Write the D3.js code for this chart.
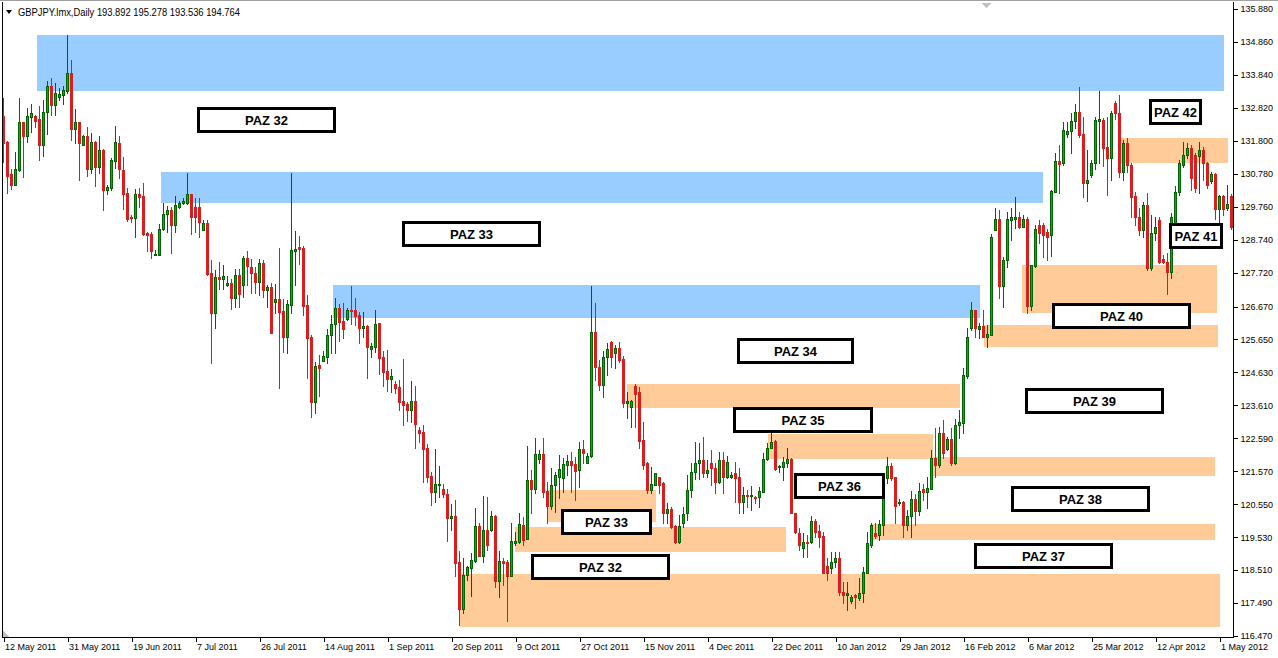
<!DOCTYPE html>
<html><head><meta charset="utf-8">
<script src="https://cdn.jsdelivr.net/npm/d3@7"></script>
<style>body{margin:0;background:#fff;}svg{display:block;}</style>
</head><body><svg id="c" width="1278" height="658"></svg>
<script>
// ---- DATA (GBPJPY daily, bar index 0 = 12 May 2011) ----
const openP = [
132.57,131.76,130.77,130.43,130.90,132.38,131.95,132.54,132.57,132.48,
131.67,132.69,133.50,132.91,133.16,133.22,133.34,133.90,132.17,132.38,
131.67,131.95,130.93,131.76,130.99,131.52,130.28,130.34,131.18,131.73,
130.90,130.18,129.44,129.41,130.15,130.09,128.95,128.92,128.27,128.27,
129.07,129.53,129.66,129.19,129.75,129.87,129.87,130.15,129.75,129.75,
129.04,129.26,127.71,126.47,127.58,127.52,127.34,127.40,126.93,127.65,
127.34,128.17,127.89,127.71,127.43,128.02,127.18,127.27,126.81,126.90,
126.53,125.73,126.72,128.39,128.51,128.48,126.72,125.73,123.71,124.86,
124.98,125.11,125.79,126.13,126.62,126.22,126.28,126.56,126.56,126.41,
126.01,126.07,125.35,125.42,126.16,125.11,124.67,124.43,124.27,124.18,
123.75,123.65,123.47,123.75,122.85,122.78,122.29,121.42,120.93,121.14,
121.02,120.87,120.12,120.18,118.76,117.31,118.36,118.57,118.79,119.88,
118.95,119.75,119.75,120.18,118.17,118.79,118.76,118.33,119.35,119.38,
119.91,119.47,121.30,121.02,121.95,122.10,120.96,120.49,121.14,121.39,
121.36,121.76,121.89,121.79,121.61,122.26,121.83,122.04,125.88,124.80,
124.24,125.11,125.57,125.23,125.39,125.05,123.68,123.56,124.21,124.02,
122.54,121.83,120.99,121.14,121.39,121.21,120.28,120.40,119.88,119.38,
119.97,120.28,120.99,121.55,121.83,121.92,121.52,121.83,121.67,121.24,
121.92,121.39,121.39,121.52,121.39,120.62,120.84,120.80,120.77,120.77,
120.93,121.95,122.29,122.51,121.70,121.70,121.83,121.95,120.28,119.66,
119.19,119.38,119.38,120.03,119.72,119.57,118.64,118.57,118.76,118.88,
117.83,117.74,117.55,117.74,117.65,117.80,118.42,119.29,119.66,119.60,
119.91,121.36,121.73,121.39,120.59,120.62,119.91,120.18,120.71,120.34,
121.02,120.93,121.02,121.98,121.76,122.75,122.26,122.57,121.83,123.00,
123.06,124.52,126.01,126.56,125.97,126.07,125.73,125.79,129.04,129.38,
127.31,128.11,129.35,129.38,129.44,129.13,129.38,126.69,127.92,129.19,
129.19,128.98,128.88,130.22,131.18,131.11,132.01,132.10,132.41,132.69,
132.01,130.49,130.74,131.11,132.41,132.44,131.61,131.27,132.97,132.66,
130.83,131.73,131.05,130.09,129.44,129.04,129.81,127.86,128.95,129.35,
128.14,128.05,127.74,129.13,130.22,131.05,131.36,131.58,131.36,131.33,
131.52,131.11,130.56,130.77,129.69,130.09,129.72,130.09];
const highP = [
133.13,131.79,130.93,131.45,133.13,132.38,132.82,132.94,132.60,132.88,
133.06,133.65,133.74,133.59,133.44,133.50,135.08,134.30,132.79,132.38,
131.98,132.23,132.04,131.79,131.95,131.55,130.43,131.27,132.26,131.95,
131.30,130.34,129.50,130.31,130.34,130.49,128.98,128.98,128.42,129.23,
129.87,129.78,129.75,130.09,129.94,130.03,130.80,130.15,130.03,130.03,
129.35,129.35,128.11,127.80,128.05,127.96,127.61,127.52,127.83,127.83,
128.23,128.39,128.14,127.89,128.14,128.11,127.34,127.40,127.37,128.48,
126.90,126.87,130.80,129.01,128.85,128.54,127.03,125.79,124.95,125.17,
125.29,125.97,126.41,126.93,126.75,126.78,126.62,127.31,126.93,126.50,
126.50,126.10,125.54,126.56,126.16,125.29,125.32,124.74,124.36,124.39,
125.05,123.71,124.36,124.21,122.94,123.00,122.41,121.55,122.26,121.73,
121.17,121.02,120.56,120.68,119.10,118.88,118.64,119.04,120.43,119.97,
120.80,120.77,120.34,120.22,119.10,118.88,118.82,119.97,119.69,120.28,
120.15,122.35,121.61,122.60,122.23,122.60,121.24,121.67,121.55,122.07,
121.98,122.07,122.17,122.01,122.48,122.54,122.14,127.31,126.78,125.01,
125.29,125.54,125.60,125.48,125.57,125.14,124.02,123.78,124.27,124.18,
123.09,121.86,121.70,121.52,121.39,121.24,120.59,120.46,119.91,120.22,
120.46,121.45,121.83,122.48,122.45,122.63,121.92,122.23,121.83,122.17,
122.17,122.04,121.55,121.86,121.67,121.08,120.99,121.11,120.80,121.08,
122.14,122.45,122.75,122.54,121.76,122.01,122.29,121.98,120.28,119.81,
119.66,119.60,120.18,120.09,119.91,119.69,118.88,119.07,119.07,119.07,
118.14,118.14,117.74,117.77,118.27,118.61,119.69,119.97,119.97,120.06,
121.45,122.01,121.83,121.39,120.71,120.65,120.37,120.96,120.87,121.21,
121.17,121.39,122.23,122.91,122.94,123.16,122.63,122.91,123.19,123.47,
124.77,126.01,126.81,126.56,126.16,126.56,126.10,128.92,129.72,129.66,
128.20,129.60,129.72,130.06,129.60,129.50,129.44,127.96,129.19,129.35,
129.26,129.07,130.28,131.42,131.67,132.38,132.38,132.66,132.94,133.47,
132.54,131.52,131.21,132.54,133.34,132.51,132.54,132.72,133.03,133.22,
131.83,131.89,131.11,130.22,129.72,129.91,130.18,129.50,129.44,129.44,
128.26,128.33,129.57,130.40,131.21,131.76,131.73,131.67,131.42,131.76,
131.61,131.14,130.83,130.80,130.12,130.12,130.43,130.15];
const lowP = [
131.14,130.19,130.31,130.43,130.87,130.68,131.76,132.07,132.23,131.21,
131.33,132.01,132.60,132.60,133.06,132.94,133.28,131.83,131.73,130.59,
131.67,130.71,130.80,130.40,130.80,129.66,130.15,130.28,130.96,130.65,
129.69,129.32,129.29,128.82,129.75,128.88,128.39,128.17,128.27,128.27,
129.04,128.98,128.33,128.98,129.72,129.84,129.84,128.92,128.98,128.82,
129.04,127.65,124.92,126.01,127.21,127.21,127.31,126.59,126.66,126.66,
126.96,127.34,127.09,127.09,127.03,126.96,126.66,125.85,126.47,124.15,
125.26,125.23,126.47,127.34,127.99,126.41,124.46,123.25,123.37,123.90,
124.98,124.92,125.23,125.23,125.60,125.70,126.25,126.13,126.10,125.54,
125.73,124.46,125.11,125.26,124.58,124.21,124.05,124.02,123.99,123.47,
123.00,123.12,123.09,122.29,122.48,121.24,121.24,120.51,120.62,120.77,
120.77,119.41,119.75,118.33,116.81,117.18,118.20,117.71,118.76,118.95,
118.76,119.13,119.72,117.99,117.68,118.05,116.93,118.33,119.29,119.35,
119.29,119.47,120.28,120.90,121.83,120.77,119.97,120.40,120.31,120.74,
120.93,121.45,120.93,120.68,121.08,121.83,121.83,122.01,124.39,124.09,
123.87,124.55,124.80,124.77,124.95,123.56,123.22,122.94,122.94,122.29,
121.64,120.90,120.90,121.14,120.90,119.97,119.97,119.81,119.35,119.35,
119.84,120.06,120.77,121.33,121.33,121.39,121.39,121.14,120.90,121.21,
120.90,121.36,121.36,120.62,120.28,120.28,120.46,120.37,120.59,120.46,
120.93,121.92,122.29,121.61,121.55,121.30,121.70,120.28,119.66,119.13,
118.92,118.92,119.35,119.53,119.21,118.42,118.20,118.42,118.61,117.74,
117.49,117.28,117.49,117.34,117.58,117.52,118.42,119.21,119.50,119.44,
119.60,121.21,121.30,119.97,120.52,119.53,119.75,119.53,119.91,120.22,
120.68,120.43,121.02,121.39,121.70,121.98,122.23,121.76,121.79,122.60,
122.75,124.46,125.94,125.73,125.70,125.73,125.42,125.79,129.04,126.93,
126.66,127.89,128.73,129.10,129.10,129.13,126.47,126.56,127.89,128.64,
128.20,128.11,128.23,130.22,130.18,131.05,131.92,131.42,132.20,131.92,
130.06,129.94,130.68,130.93,131.11,131.02,130.12,130.59,132.48,130.68,
130.59,130.83,129.44,129.19,128.88,128.82,127.80,127.80,128.73,128.02,
128.02,127.06,127.55,129.10,130.12,130.99,131.27,130.28,130.22,130.18,
130.59,130.34,130.49,129.38,129.04,129.50,129.66,129.07];
const closeP = [
131.73,130.71,130.43,130.93,132.38,131.95,132.57,132.66,132.41,131.67,
132.69,133.50,132.91,133.28,133.25,133.37,133.90,132.17,132.38,131.73,
131.95,130.93,131.76,130.99,131.52,130.28,130.37,131.21,131.76,130.93,
130.15,129.38,129.41,130.15,130.06,128.92,128.88,128.39,128.30,129.07,
129.53,129.66,129.19,129.81,129.87,129.94,130.15,129.44,129.44,129.29,
129.26,127.68,126.47,127.58,127.52,127.61,127.40,126.93,127.65,127.06,
128.17,127.92,127.71,127.43,128.02,127.18,127.27,125.85,126.90,126.50,
125.73,126.75,128.42,128.45,128.45,126.69,125.70,123.71,124.83,124.77,
125.14,125.79,126.13,126.62,126.19,125.97,126.56,126.53,126.38,126.01,
126.07,125.42,125.45,126.13,125.08,124.64,124.43,124.52,124.15,123.71,
123.62,123.47,123.75,123.03,122.75,122.26,121.39,120.93,121.17,121.17,
120.87,120.12,120.18,118.73,117.31,118.36,118.61,118.82,119.88,118.95,
119.75,119.29,120.18,118.17,118.79,118.73,118.33,119.41,119.41,119.94,
119.44,121.30,121.02,122.10,122.10,120.93,120.49,121.14,121.45,121.64,
121.79,121.89,121.76,121.58,122.26,122.14,122.04,125.88,124.80,124.24,
125.11,125.35,125.11,125.39,125.01,123.68,123.75,123.75,123.96,122.51,
121.76,120.99,121.17,121.52,121.14,120.28,120.40,119.84,119.38,119.88,
120.25,120.99,121.55,121.83,121.92,121.52,121.61,121.67,121.24,121.92,
121.39,121.86,121.45,121.36,120.62,120.84,120.80,120.84,120.74,120.96,
121.95,122.29,122.48,121.64,121.73,121.86,121.95,120.28,119.69,119.29,
119.38,119.35,120.03,119.69,119.53,118.42,118.42,118.76,118.88,117.83,
117.74,117.80,117.68,117.68,117.80,118.45,119.35,119.91,119.57,119.94,
121.36,121.73,121.36,120.49,120.62,119.91,120.18,120.71,120.34,120.96,
120.93,121.05,121.98,121.76,122.75,122.14,122.57,121.83,123.00,123.09,
124.55,125.73,126.56,126.01,126.07,125.73,125.82,128.82,129.38,127.31,
128.11,129.38,129.44,129.44,129.13,129.38,126.69,127.96,129.07,128.95,
128.88,128.82,130.25,131.18,131.08,132.14,132.10,132.41,132.69,131.98,
130.49,130.59,131.11,132.44,132.48,131.58,131.27,132.66,132.66,130.83,
131.73,131.05,130.06,129.44,129.04,129.81,127.86,128.95,129.13,128.05,
128.05,127.74,129.44,130.22,131.11,131.36,131.58,130.65,130.34,131.52,
131.11,130.43,130.77,129.69,130.09,129.69,129.85,129.13];

const dateLabels = ["12 May 2011","31 May 2011","19 Jun 2011","7 Jul 2011","26 Jul 2011","14 Aug 2011","1 Sep 2011","20 Sep 2011","9 Oct 2011","27 Oct 2011","15 Nov 2011","4 Dec 2011","22 Dec 2011","10 Jan 2012","29 Jan 2012","16 Feb 2012","6 Mar 2012","25 Mar 2012","12 Apr 2012","1 May 2012"];
const dateBars = [0,16,32,48,64,80,96,112,128,144,160,176,192,208,224,240,256,272,288,304];
const priceTicks = [135.880,134.860,133.840,132.820,131.800,130.780,129.760,128.740,127.720,126.670,125.650,124.630,123.610,122.590,121.570,120.550,119.530,118.510,117.490,116.470];

// zones: [startBar, endBar, upperPrice, lowerPrice]
const blueZones = [
  [8.25,305,135.08,133.34],
  [39.25,259.75,130.83,129.87],
  [82.25,244,127.34,126.31]
];
const orangeZones = [
  [155.75,239,124.27,123.53],
  [191,232.25,122.72,121.95],
  [232.25,302.75,122.01,121.42],
  [136,163,120.99,120.00],
  [127.75,195.5,119.84,119.07],
  [217,302.75,119.94,119.44],
  [114,304,118.39,116.75],
  [254.5,303.25,127.96,126.47],
  [245,303.5,126.10,125.42],
  [279.5,306,131.89,131.11]
];
const labelText  = ["PAZ 32","PAZ 33","PAZ 34","PAZ 35","PAZ 36","PAZ 33","PAZ 32","PAZ 37","PAZ 38","PAZ 39","PAZ 40","PAZ 41","PAZ 42"];
const labelBar   = [48.5,99.75,183.25,182.25,197.75,139.25,131.75,242.5,251.75,255.25,262,291.25,286.25];
const labelPrice = [132.85,129.32,125.70,123.56,121.52,120.40,119.01,119.35,121.11,124.15,126.78,129.26,133.09];
const headerText = "GBPJPY.lmx,Daily  193.892 195.278 193.536 194.764";

// ---- LAYOUT ----
const labelWidth = [139,139,117,140,91,91,139,139,139,139,139,54,53];
const boxH = 26;
const svg = d3.select("#c");
const x = d3.scaleLinear().domain([0, 307]).range([3.5, 1231.5]);
const y = d3.scaleLinear().domain([116.47, 135.88]).range([636, 9]);
const FONT = "'Liberation Sans', Arial, sans-serif";

// zones
const gz = svg.append("g").attr("shape-rendering","crispEdges");
function drawZones(arr, color){
  gz.selectAll(null).data(arr).enter().append("rect")
    .attr("x", d => Math.round(x(d[0])))
    .attr("width", d => Math.round(x(d[1])) - Math.round(x(d[0])))
    .attr("y", d => Math.round(y(d[2])))
    .attr("height", d => Math.round(y(d[3])) - Math.round(y(d[2])))
    .attr("fill", color);
}
drawZones(blueZones, "#99ccff");
drawZones(orangeZones, "#ffcc99");

// candles
const gc = svg.append("g").attr("shape-rendering","crispEdges");
d3.range(openP.length).forEach(i => {
  const o = openP[i], c = closeP[i], h = highP[i], l = lowP[i];
  const up = c >= o;
  const cx = Math.floor(x(i));
  const yh = Math.round(y(h)), yl = Math.round(y(l));
  gc.append("rect").attr("x", cx).attr("width", 1).attr("y", yh)
    .attr("height", Math.max(1, yl - yh + 1)).attr("fill", up ? "#006400" : "#c82020");
  const t = Math.round(y(Math.max(o, c))), b = Math.round(y(Math.min(o, c)));
  const bh = Math.max(1, b - t + 1);
  if (up) {
    gc.append("rect").attr("x", cx - 1).attr("width", 3).attr("y", t).attr("height", bh).attr("fill", "#006400");
    if (bh > 2) gc.append("rect").attr("x", cx).attr("width", 1).attr("y", t + 1).attr("height", bh - 2).attr("fill", "#00b400");
  } else {
    gc.append("rect").attr("x", cx - 1).attr("width", 3).attr("y", t).attr("height", bh).attr("fill", "#d81e1e");
  }
});

// label boxes
const gl = svg.append("g");
labelText.forEach((t, i) => {
  const x0 = Math.round(x(labelBar[i])), y0 = Math.round(y(labelPrice[i])), w = labelWidth[i];
  gl.append("rect").attr("x", x0 + 1.5).attr("y", y0 + 1.5).attr("width", w - 3).attr("height", boxH - 3)
    .attr("fill", "#fff").attr("stroke", "#000").attr("stroke-width", 3);
  gl.append("text").attr("x", x0 + w / 2).attr("y", y0 + boxH / 2 + 4.5)
    .attr("text-anchor", "middle").attr("font-family", FONT).attr("font-weight", "bold")
    .attr("font-size", 13).attr("fill", "#000").text(t);
});

// frame
const gf = svg.append("g").attr("shape-rendering","crispEdges");
gf.append("line").attr("x1",0).attr("x2",1278).attr("y1",0.5).attr("y2",0.5).attr("stroke","#a0a0a0");
gf.append("line").attr("x1",2.5).attr("x2",2.5).attr("y1",2).attr("y2",638).attr("stroke","#000");
gf.append("line").attr("x1",1233.5).attr("x2",1233.5).attr("y1",2).attr("y2",638).attr("stroke","#000");
gf.append("line").attr("x1",2).attr("x2",1234).attr("y1",637.5).attr("y2",637.5).attr("stroke","#000");
gf.append("polygon").attr("points","981,3 991,3 986,8").attr("fill","#c0c0c0");
gf.append("polygon").attr("points","3,630 3,637 9,637").attr("fill","#c0c0c0");

// right price axis
const ya = d3.axisRight(y).tickValues(priceTicks).tickFormat(d3.format(".3f")).tickSize(4).tickPadding(3);
const gy = svg.append("g").attr("transform","translate(1233.5,0)").call(ya);
gy.select(".domain").remove();
gy.selectAll("line").attr("stroke","#000").attr("shape-rendering","crispEdges");
gy.selectAll("text").attr("font-family", FONT).attr("font-size", 9).attr("fill","#000");

// bottom date axis
const xa = d3.axisBottom(x).tickValues(dateBars).tickFormat((d, i) => dateLabels[i]).tickSize(4).tickPadding(2);
const gx = svg.append("g").attr("transform","translate(0,637.5)").call(xa);
gx.select(".domain").remove();
gx.selectAll("line").attr("stroke","#000").attr("shape-rendering","crispEdges");
gx.selectAll("text").attr("font-family", FONT).attr("font-size", 9).attr("fill","#000")
  .attr("text-anchor","start").attr("dx", 1);

// header
svg.append("polygon").attr("points","6,10 12,10 9,14").attr("fill","#000");
svg.append("text").attr("x",18).attr("y",16).attr("font-family",FONT).attr("font-size",10)
  .attr("textLength",222).attr("lengthAdjust","spacingAndGlyphs").attr("fill","#000").text(headerText);
</script>
</body></html>
